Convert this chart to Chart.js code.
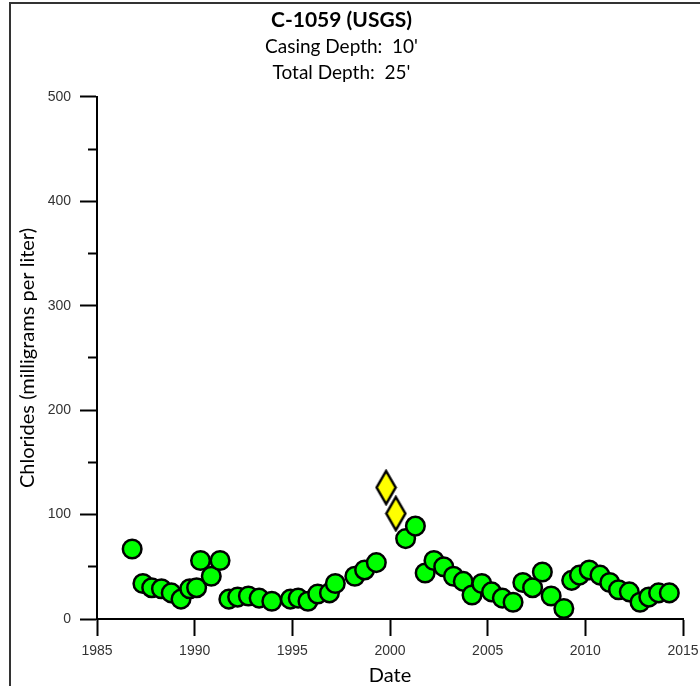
<!DOCTYPE html>
<html>
<head>
<meta charset="utf-8">
<script src="https://cdn.jsdelivr.net/npm/chart.js@4.4.1/dist/chart.umd.min.js"></script>
<style>
  html, body { margin: 0; padding: 0; background: #fff; }
  #wrap { width: 700px; height: 686px; }
</style>
</head>
<body>
<div id="wrap"><canvas id="chart" width="700" height="686"></canvas></div>
<script>
const titleText = 'C-1059 (USGS)';
const subtitleLines = ["Casing Depth:  10'", "Total Depth:  25'"];
const xTitle = 'Date';
const yTitle = 'Chlorides (milligrams per liter)';
const xRange = [1985, 2015];
const yRange = [0, 500];

// sample dates (decimal years) and chloride values, green circles
const usgsDates = [
  1986.8, 1987.35, 1987.8, 1988.3, 1988.8, 1989.3, 1989.75, 1990.1, 1990.3, 1990.85,
  1991.3, 1991.75, 1992.2, 1992.75, 1993.3, 1993.95, 1994.9, 1995.3, 1995.8, 1996.3,
  1996.9, 1997.2, 1998.2, 1998.7, 1999.3, 2000.8, 2001.3, 2001.8, 2002.25, 2002.75,
  2003.25, 2003.75, 2004.2, 2004.7, 2005.2, 2005.75, 2006.3, 2006.8, 2007.3, 2007.8,
  2008.25, 2008.9, 2009.3, 2009.7, 2010.2, 2010.75, 2011.25, 2011.7, 2012.25, 2012.8,
  2013.25, 2013.75, 2014.3
];
const usgsChlorides = [
  67, 34, 30, 29, 25, 19, 29, 30, 56, 41,
  56, 19, 21, 22, 20, 17, 19, 20, 17, 24,
  25, 34, 41, 47, 54, 77, 89, 44, 56, 50,
  41, 36, 23, 34, 26, 20, 16, 35, 30, 45,
  22, 10, 37, 42, 47, 42, 35, 28, 26, 16,
  21, 25, 25
];
// yellow diamonds
const flagDates = [1999.8, 2000.3];
const flagChlorides = [126, 101];

function diamondImg(w, h) {
  const c = document.createElement('canvas');
  c.width = w + 4; c.height = h + 4;
  const g = c.getContext('2d');
  g.beginPath();
  g.moveTo(c.width / 2, 2);
  g.lineTo(c.width - 2, c.height / 2);
  g.lineTo(c.width / 2, c.height - 2);
  g.lineTo(2, c.height / 2);
  g.closePath();
  g.fillStyle = '#ffff00';
  g.fill();
  g.lineWidth = 2.5;
  g.strokeStyle = '#000';
  g.stroke();
  return c;
}

const framePlugin = {
  id: 'frame',
  beforeDraw(chart) {
    const { ctx, width, height } = chart;
    ctx.save();
    ctx.fillStyle = '#fff';
    ctx.fillRect(0, 0, width, height);
    ctx.strokeStyle = '#333';
    ctx.lineWidth = 2;
    ctx.beginPath();
    ctx.moveTo(10, height);
    ctx.lineTo(10, 3);
    ctx.lineTo(width, 3);
    ctx.stroke();
    ctx.restore();
  }
};

const tickFont = { family: 'Liberation Sans', size: 14 };
const labelFont = { family: 'Lato', size: 20 };

new Chart(document.getElementById('chart'), {
  type: 'scatter',
  data: {
    datasets: [
      {
        label: 'USGS',
        data: usgsDates.map((d, i) => ({ x: d, y: usgsChlorides[i] })),
        pointStyle: 'circle',
        pointRadius: 9.3,
        borderWidth: 2.5,
        borderColor: '#000',
        backgroundColor: '#00ff00',
      },
      {
        label: 'Other',
        data: flagDates.map((d, i) => ({ x: d, y: flagChlorides[i] })),
        pointStyle: diamondImg(19, 33),
        pointRadius: 10,
      },
    ]
  },
  options: {
    responsive: false, animation: false, events: [],
    layout: { padding: { left: 0, right: 17, top: 0, bottom: 0 } },
    plugins: {
      legend: { display: false },
      tooltip: { enabled: false },
      title: {
        display: true, text: titleText, color: '#000',
        font: { family: 'Lato', size: 21, weight: 'bold', lineHeight: 1.2 },
        padding: { top: 7.4, bottom: 1.4 },
      },
      subtitle: {
        display: true, text: subtitleLines, color: '#000',
        font: { family: 'Lato', size: 19, lineHeight: 1.368 },
        padding: { top: 0, bottom: 11 },
      },
    },
    scales: {
      x: {
        type: 'linear', min: xRange[0], max: xRange[1],
        afterFit: s => { s.height = 67; s.paddingLeft = 0; s.paddingRight = 0; },
        border: { color: '#000', width: 2 },
        grid: { drawOnChartArea: false, tickLength: 17, tickColor: '#000', tickWidth: 2 },
        ticks: { stepSize: 5, padding: 7, color: '#333', font: tickFont, callback: v => String(v) },
        title: { display: true, text: xTitle, color: '#000', font: { ...labelFont, lineHeight: 1 }, padding: { top: 4, bottom: 0 } },
      },
      y: {
        min: yRange[0], max: yRange[1],
        afterFit: s => { s.width = 97; },
        border: { color: '#000', width: 2 },
        grid: {
          drawOnChartArea: false, tickLength: 17, tickColor: '#000', tickWidth: 2,
          tickBorderDash: ctx => (ctx.tick && ctx.tick.value % 100 !== 0) ? [0, 8, 30, 0] : [],
        },
        ticks: { stepSize: 50, padding: 9, color: '#333', font: tickFont, callback: v => (v % 100 === 0 ? String(v) : '') },
        title: { display: true, text: yTitle, color: '#000', font: { ...labelFont, lineHeight: 1.2 }, padding: { top: 16, bottom: 0 } },
      },
    },
  },
  plugins: [framePlugin],
});
</script>
</body>
</html>
